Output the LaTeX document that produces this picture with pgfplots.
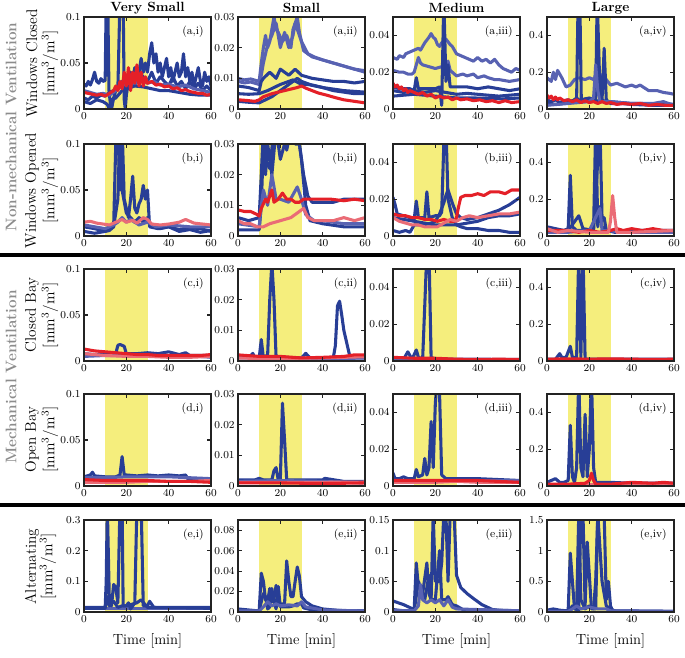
\documentclass[border=0pt]{standalone}
\usepackage{pgfplots}
\pgfplotsset{compat=1.18}
\definecolor{cB}{RGB}{40,62,150}
\definecolor{cP}{RGB}{88,98,178}
\definecolor{cR}{RGB}{228,32,40}
\definecolor{cL}{RGB}{234,108,118}
\definecolor{shadecol}{RGB}{245,238,125}
\definecolor{frame}{RGB}{35,35,35}
\definecolor{grayt}{RGB}{140,140,140}
\pgfplotsset{
 panel/.style={scale only axis, width=95.25pt, height=69pt, anchor=north west,
  xmin=0, xmax=60, ymin=0, xtick={0,20,40,60},
  axis on top, tick align=inside, major tick length=3pt,
  axis line style={line width=1.8pt, draw=frame},
  tick style={line width=0.9pt, draw=frame},
  tick label style={font=\fontsize{8.5}{9}\selectfont},
  scaled y ticks=false,
  yticklabel style={/pgf/number format/fixed, /pgf/number format/precision=3, xshift=1pt},
  xticklabel style={yshift=1pt},
  every axis plot/.append style={line width=2.3pt, line join=round, line cap=round},
 },
 B/.style={cB}, P/.style={cP}, R/.style={cR}, L/.style={cL},
}
\newcommand{\panel}[6]{%
\begin{axis}[panel, at={(#1*0.75pt,-#2*0.75pt)}, ymax=#3, ytick={#4}]
\fill[shadecol] (axis cs:10,0) rectangle (axis cs:30,#3);
#6
\node[anchor=north east, font=\fontsize{8.5}{9}\selectfont] at (rel axis cs:0.98,0.95) {(#5)};
\end{axis}}
\begin{document}
\begin{tikzpicture}
\useasboundingbox (0,0) rectangle (685*0.75pt,-657*0.75pt);
% ---------------- row a ----------------
\panel{84}{17}{0.1}{0,0.05,0.1}{a,i}{
\addplot[B] coordinates {(0,.027)(1,.025)(2,.03)(3,.026)(4,.032)(5,.04)(6,.03)(7,.028)(8,.033)(9,.03)(10,.031)(10.5,.12)(11.2,.12)(11.8,.02)(12.5,.005)(13,0)(14,.012)(15,.02)(16,.022)(17,.12)(18.5,.12)(19,.01)(19.5,0)(20,.015)(21,.03)(22,.04)(23,.032)(24,.045)(25,.03)(26,.04)(27,.055)(28,.04)(29,.05)(30,.04)(31,.06)(32,.072)(33,.05)(34,.06)(35,.04)(36,.05)(37,.035)(38,.045)(39,.055)(40,.035)(41,.045)(42,.03)(43,.04)(44,.05)(45,.035)(46,.04)(47,.06)(48,.035)(49,.045)(50,.03)(51,.04)(52,.025)(53,.035)(54,.045)(55,.03)(56,.025)(57,.04)(58,.03)(59,.035)(60,.025)};
\addplot[B] coordinates {(0,.012)(2,.01)(4,.014)(6,.012)(8,.015)(10,.014)(12,.018)(14,.02)(16,.025)(18,.03)(20,.028)(22,.035)(24,.03)(26,.04)(28,.035)(30,.03)(32,.04)(34,.028)(36,.035)(38,.03)(40,.025)(42,.035)(44,.025)(46,.03)(48,.022)(50,.03)(52,.022)(54,.028)(56,.02)(58,.025)(60,.02)};
\addplot[P] coordinates {(0,.02)(3,.018)(6,.016)(9,.017)(12,.015)(15,.02)(18,.025)(21,.03)(24,.027)(27,.032)(30,.028)(33,.03)(36,.026)(40,.027)(44,.024)(48,.026)(52,.022)(56,.02)(60,.018)};
\addplot[B] coordinates {(0,.008)(3,.006)(6,.01)(9,.008)(11,.005)(12,0)(13,.01)(15,.012)(18,.02)(20,.022)(24,.025)(28,.024)(32,.022)(36,.02)(40,.02)(45,.018)(50,.016)(55,.015)(60,.015)};
\addplot[R] coordinates {(0,.018)(2,.017)(4,.016)(6,.015)(8,.016)(10,.014)(12,.017)(14,.02)(15,.025)(16,.02)(17,.03)(18,.022)(19,.04)(20,.025)(21,.045)(22,.02)(23,.04)(24,.028)(25,.048)(26,.025)(27,.04)(28,.025)(29,.035)(30,.028)(32,.03)(34,.026)(36,.027)(38,.024)(40,.025)(42,.022)(44,.023)(46,.02)(48,.021)(50,.019)(52,.018)(54,.017)(56,.017)(58,.015)(60,.016)};
}
\panel{238}{17}{0.03}{0,0.01,0.02,0.03}{a,ii}{
\addplot[P] coordinates {(0,.01)(3,.0095)(6,.0098)(10,.009)(11,.015)(12,.02)(13,.024)(14,.02)(15,.022)(17,.03)(18,.026)(19,.025)(21,.022)(23,.024)(25,.02)(26,.026)(27,.028)(28,.03)(29,.025)(31,.019)(33,.018)(35,.017)(40,.016)(45,.015)(50,.014)(55,.013)(60,.0125)};
\addplot[P] coordinates {(0,.009)(3,.0085)(6,.0088)(10,.008)(11,.011)(12,.015)(14,.021)(16,.024)(18,.028)(20,.02)(22,.025)(24,.02)(26,.024)(27,.028)(28,.026)(30,.022)(33,.018)(36,.017)(40,.016)(45,.015)(50,.014)(55,.013)(60,.012)};
\addplot[B] coordinates {(0,.0075)(5,.007)(10,.006)(11,.009)(12,.01)(15,.012)(18,.01)(20,.013)(22,.012)(24,.011)(27,.013)(30,.011)(35,.01)(40,.0095)(45,.009)(50,.009)(55,.0085)(60,.009)};
\addplot[B] coordinates {(0,.005)(5,.0048)(10,.005)(14,.006)(17,.007)(20,.008)(24,.009)(26,.0095)(30,.008)(33,.008)(40,.007)(45,.006)(50,.0055)(55,.005)(60,.005)};
\addplot[B] coordinates {(0,.0025)(5,.0022)(10,.002)(13,.003)(16,.004)(20,.006)(24,.008)(28,.01)(30,.009)(34,.008)(40,.007)(50,.006)(60,.0055)};
\addplot[R] coordinates {(0,.003)(4,.0028)(8,.0025)(10,.003)(12,.004)(16,.005)(19,.0055)(22,.006)(25,.0065)(28,.007)(30,.0075)(32,.0068)(35,.006)(38,.0052)(42,.0045)(46,.0037)(50,.003)(55,.0025)(60,.002)};
}
\panel{393}{17}{0.05}{0,0.02,0.04}{a,iii}{
\addplot[P] coordinates {(0,.028)(2,.027)(3,.029)(5,.028)(6,.03)(8,.031)(10,.032)(12,.033)(13,.032)(15,.036)(17,.039)(18,.041)(19,.039)(20,.038)(21,.035)(22,.034)(23,.036)(25,.038)(27,.035)(28,.034)(30,.03)(32,.029)(34,.028)(36,.027)(38,.026)(40,.028)(42,.026)(44,.027)(46,.025)(47,.026)(48,.027)(50,.024)(52,.022)(54,.021)(56,.02)(58,.022)(60,.021)};
\addplot[P] coordinates {(0,.021)(3,.02)(5,.02)(7,.019)(9,.019)(10,.02)(11,.024)(12,.028)(13,.025)(14,.024)(17,.023)(20,.022)(23,.023)(25,.025)(26,.026)(27,.021)(28,.02)(30,.018)(33,.019)(35,.018)(38,.019)(40,.017)(43,.018)(45,.017)(48,.016)(50,.016)(55,.015)(60,.016)};
\addplot[B] coordinates {(0,.012)(3,.011)(5,.011)(8,.011)(10,.01)(11,.017)(12,.011)(15,.011)(18,.011)(20,.011)(22,.012)(23,.002)(24,.06)(25,.015)(26,.024)(27,.012)(30,.012)(35,.012)(40,.011)(45,.012)(50,.011)(55,.01)(60,.011)};
\addplot[B] coordinates {(0,.01)(5,.009)(10,.01)(15,.009)(20,.01)(25,.009)(30,.008)(35,.0085)(40,.008)(45,.0075)(50,.007)(55,.0075)(60,.008)};
\addplot[B] coordinates {(0,.007)(5,.0075)(10,.008)(15,.0075)(20,.007)(25,.0065)(30,.006)(38,.006)(45,.0058)(52,.0055)(60,.006)};
\addplot[R] coordinates {(0,.014)(1,.012)(2,.013)(3,.011)(4,.012)(5,.01)(6,.011)(7,.009)(8,.01)(10,.009)(12,.008)(14,.009)(16,.007)(18,.008)(20,.006)(22,.007)(24,.006)(26,.0065)(28,.005)(30,.006)(32,.005)(35,.0055)(38,.0045)(41,.005)(44,.004)(47,.0045)(50,.0035)(53,.0045)(56,.0035)(60,.004)};
}
\panel{547}{17}{0.5}{0,0.2,0.4}{a,iv}{
\addplot[P] coordinates {(0,.17)(2,.15)(3,.2)(4,.16)(5,.21)(6,.19)(7,.17)(9,.12)(11,.13)(13,.16)(15,.17)(18,.16)(20,.17)(22,.16)(24,.2)(26,.18)(28,.16)(30,.13)(33,.14)(37,.12)(40,.13)(42,.12)(44,.13)(48,.1)(52,.1)(55,.09)(58,.085)(60,.08)};
\addplot[B] coordinates {(0,.05)(2,.04)(4,.05)(6,.035)(8,.045)(10,.05)(12,.04)(14,.06)(16,.04)(18,.055)(20,.045)(22,.06)(24,.04)(26,.05)(28,.035)(30,.04)(35,.035)(40,.03)(45,.03)(50,.025)(55,.03)(60,.025)};
\addplot[B] coordinates {(0,.03)(5,.025)(10,.035)(13,.05)(14,.06)(14.7,.6)(15.5,.6)(16.2,.05)(20,.06)(22,.05)(23,.06)(23.7,.6)(24.5,.3)(25,.1)(26,.05)(27,.33)(28,.05)(30,.03)(35,.03)(40,.025)(50,.02)(60,.02)};
\addplot[P] coordinates {(0,.02)(10,.03)(20,.04)(22,.06)(23,.24)(24,.1)(25,.04)(30,.04)(40,.03)(50,.03)(55,.04)(60,.02)};
\addplot[R] coordinates {(0,.075)(1,.06)(2,.07)(3,.05)(4,.065)(5,.05)(6,.06)(8,.045)(10,.05)(12,.04)(14,.05)(16,.035)(18,.045)(20,.035)(22,.04)(24,.03)(26,.04)(28,.03)(30,.035)(33,.025)(36,.03)(40,.025)(44,.03)(48,.02)(52,.025)(56,.02)(60,.02)};
}
% ---------------- row b ----------------
\panel{84}{144}{0.1}{0,0.05,0.1}{b,i}{
\addplot[B] coordinates {(0,.01)(5,.008)(10,.005)(12,.006)(14,.01)(15,.1)(16,.12)(17,.05)(18,.12)(19,.04)(20,.03)(21,.02)(22,.04)(23,.065)(24,.03)(25,.025)(26,.035)(27,.04)(28,.055)(29,.04)(30,.05)(31,.01)(35,.008)(40,.01)(45,.005)(50,.007)(55,.004)(60,.006)};
\addplot[B] coordinates {(0,.005)(5,.003)(10,.005)(14,.01)(16,.04)(17,.12)(18,.05)(20,.025)(22,.02)(24,.015)(26,.02)(28,.015)(30,.02)(32,.01)(36,.008)(40,.01)(45,.007)(50,.009)(55,.008)(60,.005)};
\addplot[P] coordinates {(0,.012)(5,.01)(10,.008)(14,.012)(16,.015)(18,.02)(20,.015)(22,.018)(26,.012)(30,.015)(34,.01)(40,.012)(50,.01)(60,.01)};
\addplot[L] coordinates {(0,.015)(3,.016)(6,.014)(9,.013)(12,.012)(15,.015)(18,.018)(20,.015)(23,.017)(25,.014)(28,.02)(30,.018)(32,.013)(36,.012)(40,.013)(45,.015)(48,.018)(52,.014)(56,.013)(60,.012)};
}
\panel{238}{144}{0.03}{0,0.01,0.02,0.03}{b,ii}{
\addplot[B] coordinates {(0,.006)(5,.005)(10,.006)(11,.02)(12,.035)(13,.025)(15,.022)(17,.035)(19,.03)(21,.035)(23,.028)(25,.035)(27,.03)(29,.03)(31,.02)(33,.013)(35,.011)(40,.011)(45,.011)(50,.012)(55,.012)(60,.012)};
\addplot[B] coordinates {(0,.002)(5,.002)(10,.002)(11,.01)(12,.03)(13,.02)(14,.03)(16,.02)(18,.035)(20,.025)(22,.03)(26,.035)(28,.035)(30,.025)(32,.01)(34,.005)(40,.004)(50,.003)(60,.003)};
\addplot[P] coordinates {(0,.004)(10,.003)(11,.01)(12,.015)(14,.01)(16,.02)(18,.012)(20,.012)(24,.011)(28,.016)(30,.012)(32,.007)(36,.005)(40,.005)(50,.004)(60,.004)};
\addplot[R] coordinates {(0,.0085)(3,.008)(6,.008)(9,.007)(10,.0065)(11,.009)(13,.012)(14,.011)(16,.015)(17,.011)(19,.012)(21,.014)(23,.012)(25,.012)(27,.011)(29,.011)(31,.012)(33,.012)(38,.012)(44,.012)(50,.0115)(55,.012)(60,.0115)};
\addplot[L] coordinates {(0,.005)(3,.004)(6,.004)(9,.003)(12,.003)(15,.004)(20,.005)(25,.006)(29,.008)(31,.009)(33,.006)(36,.005)(40,.005)(45,.005)(50,.006)(55,.005)(60,.006)};
}
\panel{393}{144}{0.05}{0,0.02,0.04}{b,iii}{
\addplot[B] coordinates {(0,.021)(1,.017)(2,.012)(5,.011)(8,.01)(10,.009)(11,.019)(12,.01)(15,.01)(16,.024)(17,.01)(20,.011)(22,.011)(23,.013)(24,.05)(25,.06)(26,.02)(28,.01)(30,.006)(32,.005)(35,.004)(40,.004)(45,.003)(50,.003)(55,.002)(60,.002)};
\addplot[B] coordinates {(0,.003)(3,.002)(6,.003)(8,.002)(10,.006)(14,.006)(18,.007)(20,.008)(22,.012)(24,.018)(25,.022)(26,.025)(28,.018)(30,.012)(32,.01)(35,.009)(40,.01)(45,.012)(50,.014)(55,.017)(60,.021)};
\addplot[B] coordinates {(0,.01)(5,.009)(10,.008)(15,.007)(20,.006)(25,.006)(30,.006)(35,.007)(40,.008)(45,.01)(50,.011)(55,.011)(60,.012)};
\addplot[R] coordinates {(0,.012)(3,.011)(6,.011)(9,.01)(12,.01)(15,.009)(18,.009)(21,.008)(24,.009)(27,.008)(29,.008)(30,.01)(31,.016)(32,.021)(34,.022)(37,.022)(40,.023)(43,.022)(46,.024)(50,.024)(53,.023)(56,.025)(60,.025)};
\addplot[L] coordinates {(0,.01)(3,.008)(6,.007)(9,.006)(12,.006)(15,.005)(18,.005)(21,.005)(24,.007)(27,.009)(30,.008)(33,.01)(36,.011)(40,.01)(45,.011)(50,.012)(55,.012)(60,.013)};
}
\panel{547}{144}{0.5}{0,0.2,0.4}{b,iv}{
\addplot[B] coordinates {(0,.05)(4,.04)(8,.03)(10,.04)(11,.33)(12,.05)(14,.03)(20,.03)(22,.04)(23,.6)(24,.05)(25,.16)(26,.05)(28,.03)(32,.02)(40,.03)(50,.03)(60,.03)};
\addplot[B] coordinates {(0,.03)(5,.03)(10,.03)(15,.11)(17,.04)(22,.03)(25,.6)(26,.1)(27,.1)(28,.03)(35,.03)(45,.02)(60,.02)};
\addplot[P] coordinates {(0,.02)(10,.02)(20,.03)(25,.15)(26,.03)(40,.02)(60,.02)};
\addplot[R] coordinates {(0,.03)(5,.03)(10,.03)(15,.02)(20,.03)(25,.02)(30,.03)(33,.04)(36,.03)(40,.04)(45,.03)(50,.04)(55,.03)(60,.03)};
\addplot[L] coordinates {(0,.04)(5,.02)(10,.03)(20,.02)(29,.02)(30,.08)(31,.22)(32,.1)(33,.02)(40,.02)(60,.03)};
}
% ---------------- row c ----------------
\panel{84}{269}{0.1}{0,0.05,0.1}{c,i}{
\addplot[B] coordinates {(0,.008)(5,.007)(10,.008)(15,.008)(16,.017)(17,.018)(19,.016)(20,.008)(25,.008)(30,.009)(35,.008)(40,.01)(45,.007)(48,.009)(50,.006)(55,.006)(60,.006)};
\addplot[P] coordinates {(0,.005)(10,.006)(20,.006)(30,.006)(40,.005)(50,.006)(60,.004)};
\addplot[L] coordinates {(0,.008)(10,.006)(20,.005)(30,.005)(40,.004)(50,.004)(60,.005)};
\addplot[R] coordinates {(0,.013)(5,.011)(10,.01)(15,.009)(20,.008)(25,.007)(30,.007)(35,.006)(40,.006)(45,.006)(50,.006)(55,.006)(60,.007)};
}
\panel{238}{269}{0.03}{0,0.01,0.02,0.03}{c,ii}{
\addplot[B] coordinates {(0,.001)(5,.001)(7,.0025)(8,.001)(10,.001)(11,.007)(12,.001)(14,.002)(15,.02)(16,.032)(17,.02)(18,.001)(30,.001)(32,.0025)(34,.001)(45,.001)(46,.005)(47,.018)(48,.0195)(49,.015)(50,.01)(52,.004)(53,.001)(60,.001)};
\addplot[P] coordinates {(0,.0015)(10,.0012)(20,.0012)(30,.001)(40,.0008)(50,.0008)(60,.001)};
\addplot[L] coordinates {(0,.001)(10,.0008)(20,.0009)(30,.0009)(40,.001)(50,.0012)(60,.0014)};
\addplot[R] coordinates {(0,.002)(10,.0015)(20,.0015)(30,.001)(40,.0012)(50,.0015)(55,.002)(60,.002)};
}
\panel{393}{269}{0.05}{0,0.02,0.04}{c,iii}{
\addplot[B] coordinates {(0,.001)(5,.001)(7,.005)(8,.003)(9,.001)(11,.006)(12,.002)(14,.001)(15,.03)(16,.06)(17,.06)(18,.002)(20,.001)(40,.0005)(60,.0005)};
\addplot[P] coordinates {(0,.001)(10,.0015)(20,.001)(30,.001)(40,.001)(60,.0008)};
\addplot[R] coordinates {(0,.002)(10,.0015)(20,.0015)(30,.001)(40,.0008)(50,.001)(60,.0008)};
}
\panel{547}{269}{0.5}{0,0.2,0.4}{c,iv}{
\addplot[B] coordinates {(0,.01)(4,.01)(6,.04)(7,.02)(9,.02)(11,.08)(12,.02)(14,.02)(15,.6)(16,.02)(17,.6)(18,.01)(20,.01)(30,.01)(40,.01)(60,.01)};
\addplot[P] coordinates {(0,.005)(20,.005)(40,.005)(60,.005)};
\addplot[R] coordinates {(0,.01)(10,.012)(20,.01)(30,.012)(40,.01)(50,.008)(60,.01)};
}
% ---------------- row d ----------------
\panel{84}{394}{0.1}{0,0.05,0.1}{d,i}{
\addplot[B] coordinates {(0,.01)(3,.012)(4,.015)(5,.011)(10,.01)(15,.01)(17,.012)(18,.032)(19,.012)(20,.012)(25,.011)(30,.012)(35,.011)(40,.012)(45,.011)(48,.012)(49,.008)(50,.006)(55,.006)(60,.005)};
\addplot[P] coordinates {(0,.009)(10,.009)(20,.01)(30,.01)(40,.01)(50,.009)(60,.008)};
\addplot[L] coordinates {(0,.004)(10,.004)(20,.004)(30,.005)(40,.005)(50,.005)(60,.006)};
\addplot[R] coordinates {(0,.007)(10,.006)(20,.006)(30,.006)(40,.005)(50,.005)(60,.004)};
}
\panel{238}{394}{0.03}{0,0.01,0.02,0.03}{d,ii}{
\addplot[B] coordinates {(0,.002)(8,.002)(10,.0025)(12,.002)(16,.002)(17,.005)(18,.006)(19,.002)(20,.002)(21,.027)(22,.015)(23,.002)(30,.002)(40,.002)(41,.0025)(50,.0015)(60,.0015)};
\addplot[P] coordinates {(0,.0015)(20,.0018)(40,.0015)(60,.001)};
\addplot[L] coordinates {(0,.0012)(20,.0012)(40,.0012)(60,.0013)};
\addplot[R] coordinates {(0,.001)(20,.001)(40,.0008)(60,.001)};
}
\panel{393}{394}{0.05}{0,0.02,0.04}{d,iii}{
\addplot[B] coordinates {(0,.007)(1,.004)(3,.004)(5,.005)(7,.004)(10,.004)(11,.009)(12,.005)(14,.006)(15,.015)(16,.006)(17,.01)(18,.035)(19,.01)(20,.045)(21,.06)(22,.05)(23,.006)(25,.004)(40,.004)(60,.003)};
\addplot[P] coordinates {(0,.003)(20,.003)(40,.003)(60,.003)};
\addplot[L] coordinates {(0,.002)(10,.002)(20,.002)(30,.0025)(40,.002)(60,.002)};
\addplot[R] coordinates {(0,.003)(10,.003)(20,.003)(30,.003)(40,.003)(50,.0025)(60,.002)};
}
\panel{547}{394}{0.5}{0,0.2,0.4}{d,iv}{
\addplot[B] coordinates {(0,.02)(2,.03)(4,.04)(6,.02)(8,.02)(10,.03)(11,.33)(12,.05)(13,.02)(14,.1)(15,.6)(16,.1)(17,.05)(18,.39)(19,.05)(20,.2)(21,.6)(22,.1)(23,.02)(30,.02)(40,.015)(60,.015)};
\addplot[L] coordinates {(0,.01)(20,.01)(40,.01)(60,.01)};
\addplot[R] coordinates {(0,.01)(10,.01)(18,.015)(20,.03)(21,.07)(22,.03)(23,.01)(30,.01)(40,.02)(50,.015)(55,.02)(60,.015)};
}
% ---------------- row e ----------------
\panel{84}{520}{0.3}{0,0.1,0.2,0.3}{e,i}{
\addplot[P] coordinates {(0,.01)(20,.01)(40,.01)(60,.01)};
\addplot[B] coordinates {(0,.012)(10,.012)(11,.05)(12,.02)(14,.035)(16,.015)(18,.02)(20,.02)(25,.03)(27,.04)(30,.015)(60,.012)};
\addplot[B] coordinates {(0,.015)(10,.015)(10.5,.1)(11,.35)(12,.03)(13,.02)(14,.09)(15,.08)(16,.03)(17,.35)(18,.35)(18.5,.02)(20,.02)(21,.03)(22,.01)(24,.03)(25,.35)(26,.35)(27,.35)(28,.02)(30,.02)(31,.035)(33,.015)(60,.015)};
}
\panel{238}{520}{0.09}{0,0.02,0.04,0.06,0.08}{e,ii}{
\addplot[B] coordinates {(0,.003)(5,.002)(10,.001)(11,.038)(12,.03)(13,.012)(14,.01)(15,.023)(16,.01)(17,.013)(18,.026)(19,.01)(20,.008)(22,.008)(23,.05)(24,.03)(25,.015)(26,.015)(27,.03)(28,.044)(29,.035)(30,.015)(32,.01)(35,.006)(40,.003)(50,.001)(60,.001)};
\addplot[B] coordinates {(0,.001)(10,.001)(11,.01)(12,.018)(13,.015)(14,.003)(15,.005)(16,.023)(17,.01)(18,.003)(19,.025)(20,.005)(24,.005)(26,.006)(28,.008)(30,.008)(31,.004)(35,.002)(60,.001)};
\addplot[P] coordinates {(0,.001)(10,.001)(12,.005)(14,.01)(16,.006)(18,.008)(20,.006)(24,.007)(28,.006)(30,.01)(32,.005)(40,.002)(60,.001)};
}
\panel{393}{520}{0.15}{0,0.05,0.1,0.15}{e,iii}{
\addplot[B] coordinates {(0,.018)(5,.012)(10,.004)(11,.08)(12,.04)(14,.03)(16,.08)(17,.03)(18,.02)(19,.16)(20,.05)(22,.05)(23,.08)(24,.16)(25,.16)(26,.05)(27,.16)(28,.16)(29,.15)(30,.06)(32,.04)(35,.03)(38,.022)(42,.012)(47,.004)(52,.002)(60,.001)};
\addplot[B] coordinates {(0,.004)(5,.002)(10,.002)(12,.05)(13,.04)(15,.02)(17,.06)(18,.02)(20,.02)(22,.1)(23,.02)(25,.02)(26,.025)(28,.012)(30,.01)(33,.004)(60,.002)};
\addplot[P] coordinates {(0,.002)(10,.002)(12,.01)(13,.045)(14,.02)(16,.015)(18,.02)(20,.015)(22,.02)(24,.01)(26,.02)(28,.008)(30,.005)(60,.002)};
}
\panel{547}{520}{1.5}{0,0.5,1,1.5}{e,iv}{
\addplot[B] coordinates {(0,.03)(3,.05)(6,.03)(9,.02)(10,.03)(11,.96)(12,.5)(13,.05)(15,.03)(16,1.6)(17,1.6)(18,.1)(19,1.14)(20,.6)(21,.05)(23,.05)(24,1.6)(25,1.6)(26,1.6)(27,1.6)(28,.2)(29,.5)(30,.1)(31,.02)(35,.01)(60,.01)};
\addplot[B] coordinates {(0,.02)(10,.02)(11,.05)(12,.1)(14,.05)(15,1.6)(16,.2)(18,.05)(20,.1)(22,.05)(23,.5)(24,1.6)(26,.5)(28,.1)(30,.05)(32,.02)(60,.01)};
\addplot[P] coordinates {(0,.01)(10,.01)(12,.05)(14,.1)(16,.05)(20,.08)(24,.05)(28,.05)(30,.02)(60,.01)};
}
% ---------------- labels ----------------
\foreach \cx/\t in {147.5/Very Small,301.5/Small,456.5/Medium,610.5/Large}
  \node[font=\bfseries\fontsize{10}{11}\selectfont] at (\cx*0.75pt,-8*0.75pt) {\t};
\foreach \cx in {147.5,301.5,456.5,610.5}
  \node[font=\fontsize{11}{13}\selectfont] at (\cx*0.75pt,-641*0.75pt) {Time [min]};
\foreach \cy/\t in {63.5/Windows Closed,190.5/Windows Opened,315/Closed Bay,439.5/Open Bay,566.5/Alternating}
  \node[rotate=90, font=\fontsize{11.5}{13}\selectfont] at (32*0.75pt,-\cy*0.75pt) {\t};
\foreach \cy/\cx in {63.5/50,190.5/50,315/50,439.5/50,566.5/48}
  \node[rotate=90, font=\fontsize{11.5}{13}\selectfont] at (\cx*0.75pt,-\cy*0.75pt) {[mm$^3$/m$^3$]};
\node[rotate=90, font=\bfseries\fontsize{11.5}{13}\selectfont, text=grayt] at (11*0.75pt,-127*0.75pt) {Non-mechanical Ventilation};
\node[rotate=90, font=\bfseries\fontsize{11.5}{13}\selectfont, text=grayt] at (11*0.75pt,-377*0.75pt) {Mechanical Ventilation};
\draw[line width=3pt] (0,-255*0.75pt) -- (685*0.75pt,-255*0.75pt);
\draw[line width=3pt] (0,-505*0.75pt) -- (685*0.75pt,-505*0.75pt);
\end{tikzpicture}
\end{document}
